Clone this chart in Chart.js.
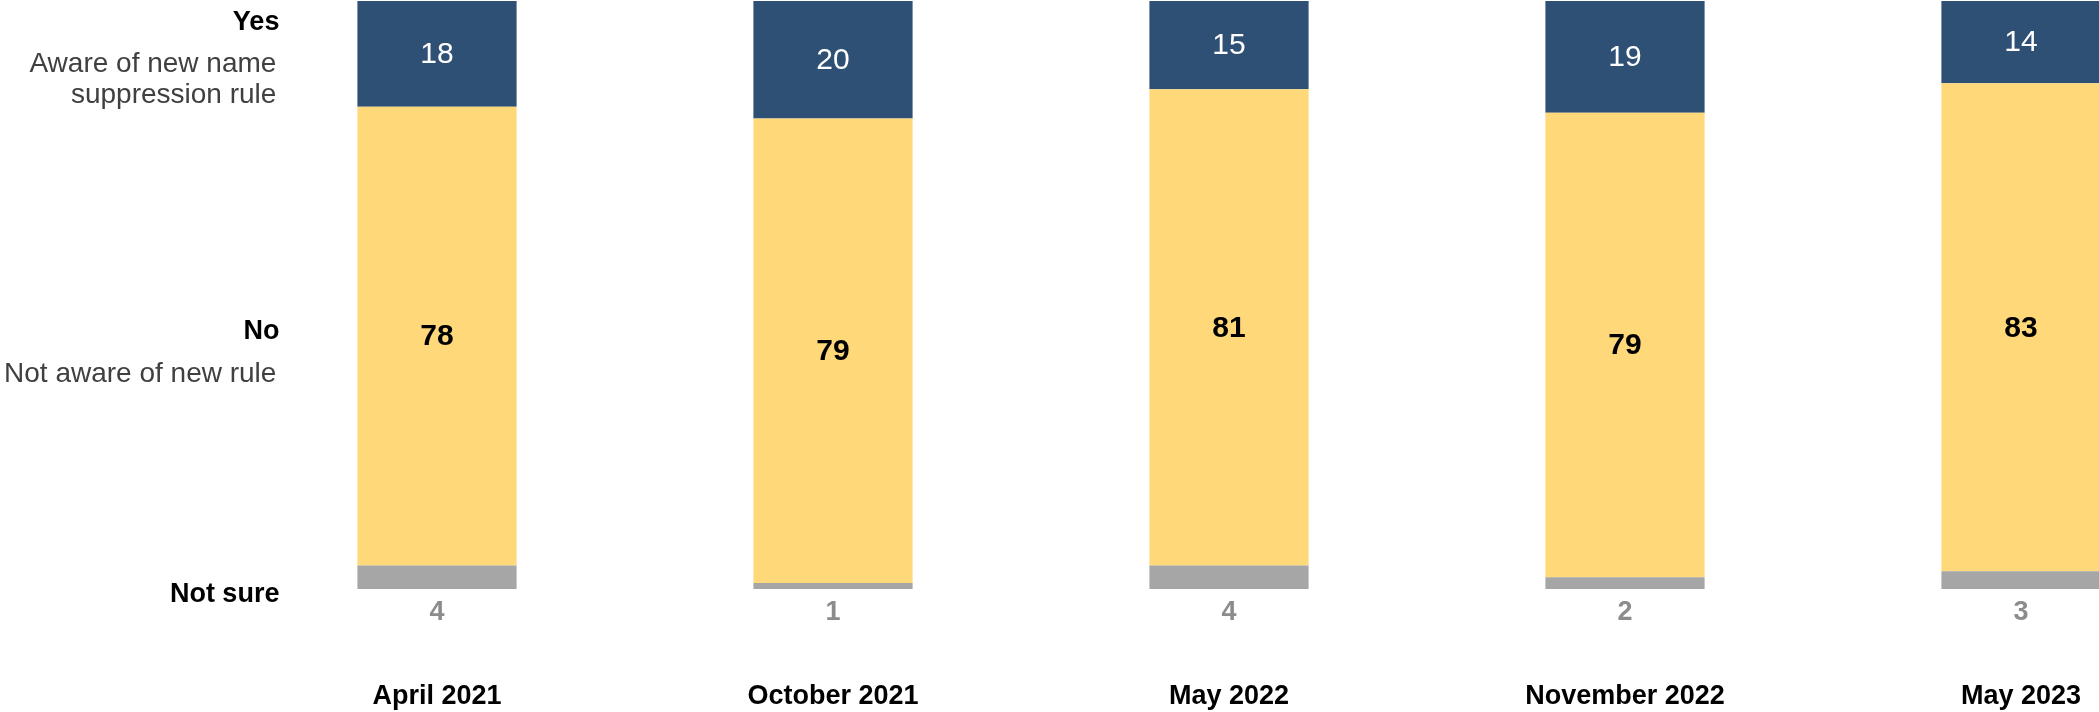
<!DOCTYPE html>
<html>
<head>
<meta charset="utf-8">
<title>Awareness of new name suppression rule</title>
<script src="https://cdn.jsdelivr.net/npm/chart.js@4.4.0/dist/chart.umd.min.js"></script>
<style>
  html, body { margin: 0; padding: 0; background: #fff; overflow: hidden; }
  /* chart is a bit wider than the window, the last bar is cut off like in the source */
  #wrap { position: relative; width: 2220px; height: 712px; }
</style>
</head>
<body>
<div id="wrap"><canvas id="chart"></canvas></div>
<script>
// survey waves
var waves = ['April 2021', 'October 2021', 'May 2022', 'November 2022', 'May 2023'];

// percentages per wave
var yesValues = [18, 20, 15, 19, 14];
var noValues = [78, 79, 81, 79, 83];
var notSureValues = [4, 1, 4, 2, 3];

// row titles shown on the left of the first bar
var rowTitles = ['Not sure', 'No', 'Yes'];
var rowNotes = [[], ['Not aware of new rule'], ['Aware of new name', 'suppression rule']];

var FONT = '"Liberation Sans", Arial, Helvetica, sans-serif';

// draws the numbers on/under the bars and the row titles on the left
var segmentLabels = {
    id: 'segmentLabels',
    afterDatasetsDraw: function(chart) {
        var ctx = chart.ctx;
        ctx.save();

        chart.data.datasets.forEach(function(ds, di) {
            var meta = chart.getDatasetMeta(di);
            meta.data.forEach(function(bar, i) {
                var top = Math.min(bar.y, bar.base);
                var bottom = Math.max(bar.y, bar.base);
                ctx.textAlign = 'center';
                ctx.textBaseline = 'middle';
                if (ds.valueStyle === 'below') {
                    ctx.font = 'bold 27px ' + FONT;
                    ctx.fillStyle = '#8c8c8c';
                    ctx.fillText(ds.data[i], bar.x, bottom + 24);
                } else {
                    ctx.font = (ds.valueStyle === 'bold' ? 'bold 30px ' : '30px ') + FONT;
                    ctx.fillStyle = ds.valueColor;
                    ctx.fillText(ds.data[i], bar.x, (top + bottom) / 2 + 1);
                }
            });

            // left side titles, lined up with the first bar
            var first = meta.data[0];
            var left = first.x - first.width / 2;
            var mid = (first.y + first.base) / 2;
            var off = ds.titleOffsets;
            ctx.textAlign = 'right';
            ctx.textBaseline = 'alphabetic';
            ctx.font = 'bold 27px ' + FONT;
            ctx.fillStyle = '#000';
            ctx.fillText(rowTitles[di], left - 78, mid + off[0]);
            ctx.font = '28px ' + FONT;
            ctx.fillStyle = '#404040';
            rowNotes[di].forEach(function(line, k) {
                ctx.fillText(line, left - 81, mid + off[1] + k * 31.3);
            });
        });

        ctx.restore();
    }
};

var chart = new Chart(document.getElementById('chart'), {
    type: 'bar',
    data: {
        labels: waves,
        datasets: [
            {
                label: rowTitles[0],
                data: notSureValues,
                backgroundColor: '#a6a6a6',
                valueStyle: 'below',
                titleOffsets: [24.5, 0]
            },
            {
                label: rowTitles[1],
                data: noValues,
                backgroundColor: '#fed879',
                valueStyle: 'bold',
                valueColor: '#000',
                titleOffsets: [2.5, 45.5]
            },
            {
                label: rowTitles[2],
                data: yesValues,
                backgroundColor: '#2f5075',
                valueStyle: 'normal',
                valueColor: '#fff',
                titleOffsets: [-24, 17.7]
            }
        ]
    },
    options: {
        responsive: true,
        maintainAspectRatio: false,
        animation: false,
        datasets: {
            bar: { barPercentage: 0.402, categoryPercentage: 1, borderWidth: 0 }
        },
        layout: { padding: { left: 239, right: 1, top: 1, bottom: 0 } },
        plugins: {
            legend: { display: false },
            tooltip: { enabled: false }
        },
        scales: {
            x: {
                stacked: true,
                grid: { display: false, drawTicks: false },
                border: { display: false },
                ticks: {
                    color: '#000',
                    font: { family: FONT, size: 27, weight: 'bold' },
                    padding: 91.8,
                    maxRotation: 0,
                    autoSkip: false
                },
                afterFit: function(scale) { scale.height = 123; }
            },
            y: {
                stacked: true,
                display: false,
                min: 0,
                max: 100
            }
        }
    },
    plugins: [segmentLabels]
});
</script>
</body>
</html>
